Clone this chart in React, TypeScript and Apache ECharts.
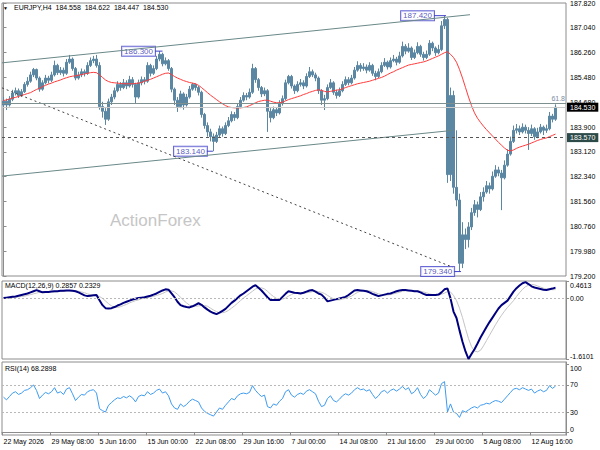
import React, { useEffect, useRef } from "react";
import * as echarts from "echarts";

// 8-hour bars
const opens = [184.60,184.72,184.60,184.78,184.98,185.05,184.90,185.02,185.25,185.35,
185.55,185.72,185.45,185.10,185.30,185.45,185.38,185.55,185.85,185.62,
185.70,185.60,185.95,186.05,185.75,185.45,185.55,185.65,185.60,185.85,
186.00,186.05,185.85,184.55,184.40,184.15,184.70,184.85,185.05,185.25,
185.15,185.30,185.20,185.40,185.25,184.85,185.30,185.40,185.35,185.85,
185.60,185.75,186.05,186.20,185.90,186.00,185.75,185.10,184.75,184.55,
184.95,184.60,184.85,185.10,185.25,185.15,185.00,184.30,183.95,183.75,
183.60,183.45,183.65,183.85,183.70,183.95,184.10,184.30,184.20,184.55,
184.75,184.90,184.85,185.00,185.75,185.40,185.15,184.95,185.05,184.40,
184.20,184.45,184.35,184.65,184.80,185.30,185.50,185.20,185.05,185.25,
185.30,185.20,185.50,185.65,185.55,185.45,185.05,184.75,184.80,185.15,
185.30,185.00,184.90,185.05,185.25,185.40,185.30,185.45,185.70,185.85,
185.75,185.80,185.70,185.85,185.60,185.50,185.65,185.85,185.95,185.80,
186.00,186.05,185.95,186.15,186.45,186.30,186.40,186.10,186.25,186.45,
186.20,186.10,186.20,186.55,186.40,186.25,186.35,187.10,187.30,182.40,
184.90,182.00,181.60,179.60,180.50,180.35,180.75,181.20,181.45,181.30,
181.70,181.85,182.05,181.95,182.35,182.55,182.45,182.30,182.70,183.05,
183.45,183.80,183.85,183.75,183.90,183.80,183.70,183.85,183.60,183.75,
183.90,183.80,183.85,184.25,184.15];

const closes = [184.72,184.60,184.78,184.98,185.05,184.90,185.02,185.25,185.35,185.55,
185.72,185.45,185.10,185.30,185.45,185.38,185.55,185.85,185.62,185.70,
185.60,185.95,186.05,185.75,185.45,185.55,185.65,185.60,185.85,186.00,
186.05,185.85,184.55,184.40,184.15,184.70,184.85,185.05,185.25,185.15,
185.30,185.20,185.40,185.25,184.85,185.30,185.40,185.35,185.85,185.60,
185.75,186.05,186.20,185.90,186.00,185.75,185.10,184.75,184.55,184.95,
184.60,184.85,185.10,185.25,185.15,185.00,184.30,183.95,183.75,183.60,
183.45,183.65,183.85,183.70,183.95,184.10,184.30,184.20,184.55,184.75,
184.90,184.85,185.00,185.75,185.40,185.15,184.95,185.05,184.40,184.20,
184.45,184.35,184.65,184.80,185.30,185.50,185.20,185.05,185.25,185.30,
185.20,185.50,185.65,185.55,185.45,185.05,184.75,184.80,185.15,185.30,
185.00,184.90,185.05,185.25,185.40,185.30,185.45,185.70,185.85,185.75,
185.80,185.70,185.85,185.60,185.50,185.65,185.85,185.95,185.80,186.00,
186.05,185.95,186.15,186.45,186.30,186.40,186.10,186.25,186.45,186.20,
186.10,186.20,186.55,186.40,186.25,186.35,187.10,187.30,182.40,184.90,
182.00,181.60,179.60,180.50,180.35,180.75,181.20,181.45,181.30,181.70,
181.85,182.05,181.95,182.35,182.55,182.45,182.30,182.70,183.05,183.45,
183.80,183.85,183.75,183.90,183.80,183.70,183.85,183.60,183.75,183.90,
183.80,183.85,184.25,184.15,184.53];

const highs = [184.85,184.80,184.88,185.08,185.15,185.12,185.10,185.32,185.48,185.65,
185.77,185.75,185.50,185.38,185.55,185.52,185.65,186.00,185.90,185.80,
185.78,186.05,186.18,186.10,185.80,185.65,185.75,185.72,185.95,186.10,
186.15,186.18,185.95,184.70,184.50,184.80,184.95,185.15,185.35,185.32,
185.42,185.38,185.52,185.48,185.30,185.40,185.50,185.48,185.95,185.90,
185.85,186.15,186.30,186.25,186.10,186.05,185.80,185.15,184.85,185.05,
185.00,184.95,185.20,185.30,185.28,185.20,185.05,184.35,184.05,183.85,
183.70,183.75,183.95,183.92,184.05,184.22,184.40,184.38,184.65,184.85,
185.00,184.98,185.12,185.90,185.80,185.45,185.20,185.15,185.10,184.50,
184.55,184.52,184.75,184.90,185.40,185.55,185.55,185.25,185.35,185.42,
185.38,185.60,185.80,185.72,185.62,185.50,185.10,184.92,185.25,185.42,
185.35,185.08,185.15,185.35,185.50,185.48,185.55,185.80,185.98,185.92,
185.92,185.88,185.95,185.90,185.68,185.75,185.95,186.08,186.00,186.10,
186.18,186.12,186.28,186.60,186.52,186.55,186.45,186.35,186.58,186.50,
186.28,186.32,186.65,186.60,186.45,186.50,187.25,187.42,187.35,185.15,
185.05,183.80,181.80,180.90,180.70,180.90,181.35,181.60,181.55,181.85,
182.00,182.20,182.15,182.50,182.70,182.65,182.55,182.85,183.20,183.60,
183.95,184.00,183.95,184.02,183.98,183.90,183.98,183.90,183.88,184.00,
183.95,183.98,184.38,184.32,184.62];

const lows = [184.50,184.44,184.55,184.72,184.90,184.82,184.85,184.98,185.18,185.30,
185.48,185.38,185.02,185.05,185.25,185.28,185.32,185.50,185.55,185.55,
185.50,185.55,185.90,185.68,185.38,185.40,185.48,185.50,185.55,185.80,
185.92,185.78,184.45,184.20,183.97,184.10,184.60,184.78,185.00,185.05,
185.10,185.10,185.15,185.15,184.66,184.80,185.22,185.25,185.30,185.50,
185.55,185.70,185.98,185.82,185.85,185.68,185.00,184.60,184.38,184.50,
184.45,184.55,184.80,185.05,185.05,184.90,184.20,183.85,183.60,183.45,
183.14,183.40,183.58,183.60,183.65,183.90,184.05,184.10,184.15,184.50,
184.70,184.75,184.80,184.95,185.30,185.05,184.85,184.88,183.75,184.05,
184.15,184.25,184.30,184.58,184.75,185.25,185.12,184.95,185.00,185.18,
185.10,185.15,185.45,185.48,185.35,184.95,184.60,184.44,184.75,185.10,
184.92,184.80,184.85,185.00,185.20,185.22,185.25,185.40,185.65,185.65,
185.68,185.60,185.65,185.52,185.38,185.45,185.60,185.80,185.72,185.75,
185.95,185.85,185.90,186.10,186.20,186.25,186.02,186.05,186.20,186.12,
186.00,186.05,186.15,186.30,186.15,186.20,186.30,187.00,182.14,182.20,
181.80,181.40,179.34,179.45,180.05,180.10,180.65,181.10,181.05,181.25,
181.55,181.80,181.80,181.90,182.30,182.35,181.28,182.25,182.65,183.00,
183.40,183.70,183.65,183.70,183.70,183.18,183.62,183.50,183.55,183.70,
183.65,183.72,183.80,184.05,184.10];

const movingAverage = [184.74,184.76,184.79,184.82,184.84,184.87,184.90,184.93,184.96,184.99,
185.04,185.09,185.13,185.18,185.22,185.26,185.29,185.33,185.36,185.39,
185.43,185.46,185.49,185.51,185.52,185.54,185.56,185.58,185.60,185.62,
185.63,185.62,185.55,185.47,185.39,185.34,185.31,185.30,185.29,185.28,
185.27,185.27,185.27,185.27,185.28,185.29,185.31,185.35,185.38,185.41,
185.45,185.49,185.53,185.57,185.60,185.61,185.56,185.50,185.45,185.41,
185.37,185.34,185.31,185.29,185.27,185.22,185.15,185.07,184.99,184.91,
184.84,184.77,184.70,184.64,184.58,184.54,184.52,184.51,184.51,184.51,
184.52,184.54,184.58,184.62,184.67,184.71,184.73,184.75,184.75,184.72,
184.69,184.67,184.67,184.69,184.73,184.77,184.80,184.83,184.86,184.89,
184.93,184.96,185.00,185.03,185.06,185.08,185.06,185.03,185.01,185.03,
185.05,185.07,185.08,185.11,185.15,185.18,185.21,185.24,185.27,185.29,
185.31,185.33,185.35,185.38,185.41,185.44,185.47,185.51,185.56,185.61,
185.65,185.70,185.74,185.78,185.82,185.86,185.88,185.90,185.92,185.94,
185.96,185.99,186.03,186.07,186.11,186.15,186.20,186.25,186.28,186.20,
186.10,185.95,185.72,185.45,185.15,184.85,184.58,184.35,184.18,184.05,
183.93,183.82,183.72,183.62,183.52,183.42,183.33,183.24,183.17,183.15,
183.18,183.23,183.27,183.30,183.33,183.36,183.40,183.44,183.48,183.51,
183.54,183.56,183.60,183.64,183.68];

const macdMain = [0.01,0.02,0.03,0.04,0.05,0.07,0.09,0.11,0.13,0.16,
0.19,0.22,0.19,0.16,0.17,0.17,0.18,0.19,0.19,0.20,
0.20,0.21,0.21,0.20,0.19,0.16,0.12,0.08,0.06,0.07,
0.08,0.09,-0.05,-0.18,-0.26,-0.27,-0.26,-0.23,-0.19,-0.16,
-0.12,-0.09,-0.06,-0.03,-0.01,0.01,0.02,0.03,0.05,0.07,
0.10,0.13,0.17,0.21,0.24,0.23,0.13,0.03,-0.09,-0.18,
-0.21,-0.23,-0.24,-0.21,-0.17,-0.13,-0.17,-0.24,-0.30,-0.35,
-0.39,-0.42,-0.38,-0.33,-0.28,-0.20,-0.12,-0.06,0.01,0.08,
0.13,0.19,0.25,0.31,0.35,0.28,0.21,0.12,0.03,-0.04,
-0.04,-0.04,-0.04,0.04,0.12,0.19,0.17,0.15,0.14,0.13,
0.15,0.18,0.21,0.22,0.18,0.13,0.10,0.02,-0.08,-0.06,
-0.04,-0.02,0.00,0.02,0.04,0.09,0.15,0.21,0.22,0.21,
0.20,0.19,0.16,0.12,0.09,0.06,0.08,0.10,0.12,0.13,
0.16,0.19,0.21,0.22,0.22,0.21,0.20,0.19,0.19,0.16,
0.12,0.09,0.09,0.09,0.09,0.10,0.16,0.24,0.26,0.00,
-0.35,-0.52,-0.85,-1.15,-1.41,-1.61,-1.48,-1.35,-1.20,-1.04,
-0.90,-0.76,-0.63,-0.51,-0.39,-0.27,-0.18,-0.12,-0.06,0.06,
0.18,0.27,0.34,0.40,0.43,0.38,0.32,0.29,0.27,0.25,
0.23,0.22,0.24,0.26,0.2857];

const macdSignal = [0.00,0.01,0.01,0.02,0.03,0.04,0.05,0.06,0.08,0.10,
0.12,0.14,0.16,0.17,0.18,0.18,0.17,0.17,0.18,0.19,
0.19,0.20,0.20,0.20,0.20,0.19,0.17,0.15,0.12,0.10,
0.08,0.08,0.05,0.00,-0.07,-0.14,-0.20,-0.24,-0.24,-0.22,
-0.19,-0.16,-0.12,-0.09,-0.06,-0.04,-0.01,0.00,0.02,0.04,
0.05,0.08,0.10,0.13,0.17,0.20,0.20,0.17,0.11,0.03,
-0.05,-0.12,-0.18,-0.21,-0.21,-0.20,-0.19,-0.19,-0.21,-0.26,
-0.31,-0.35,-0.38,-0.38,-0.36,-0.32,-0.26,-0.20,-0.13,-0.06,
0.01,0.07,0.13,0.19,0.25,0.28,0.28,0.25,0.19,0.11,
0.05,0.00,-0.03,-0.02,0.01,0.06,0.10,0.14,0.15,0.15,
0.14,0.15,0.16,0.18,0.19,0.18,0.16,0.13,0.08,0.03,
-0.01,-0.04,-0.04,-0.02,0.00,0.03,0.06,0.11,0.16,0.19,
0.21,0.21,0.20,0.18,0.15,0.12,0.10,0.09,0.09,0.10,
0.12,0.14,0.16,0.19,0.20,0.21,0.21,0.21,0.20,0.19,
0.17,0.15,0.12,0.10,0.09,0.09,0.11,0.14,0.18,0.17,
0.08,-0.06,-0.26,-0.51,-0.80,-1.07,-1.28,-1.40,-1.42,-1.38,
-1.26,-1.12,-0.98,-0.84,-0.70,-0.57,-0.45,-0.34,-0.24,-0.15,
-0.06,0.05,0.15,0.24,0.31,0.35,0.37,0.36,0.33,0.30,
0.27,0.25,0.24,0.23,0.2329];

const rsi = [52,48,53,58,60,56,58,62,63,66,
70,62,50,55,59,57,60,66,58,60,
56,64,66,57,47,52,56,55,60,62,
63,58,35,32,30,40,44,48,51,50,
53,51,54,51,45,53,55,54,60,56,
58,62,64,58,60,54,42,36,34,42,
38,41,46,49,47,45,36,31,28,26,
24,30,36,34,40,45,50,48,54,57,
58,57,59,69,62,57,53,55,38,36,
42,40,46,50,60,63,55,52,56,58,
56,61,63,60,57,46,38,40,50,54,
47,45,49,54,57,55,58,63,66,63,
64,61,63,56,50,54,60,62,58,62,
64,61,64,68,63,66,57,60,66,56,
50,54,63,59,55,58,72,75,30,42,
30,28,22,32,30,33,36,38,36,40,
41,43,42,45,47,46,44,49,54,59,
64,65,63,66,64,62,64,58,61,63,
60,62,69,65,68.2898];

const xTickLabels = ["22 May 2026","29 May 08:00","5 Jun 16:00","15 Jun 00:00","22 Jun 08:00","29 Jun 16:00","7 Jul 00:00","14 Jul 08:00","21 Jul 16:00","29 Jul 00:00","5 Aug 08:00","12 Aug 16:00"];
const priceTicks = [179.2,179.98,180.76,181.56,182.34,183.12,183.9,184.68,185.48,186.26,187.04,187.82];
const macdTicks = [0.4613,0,-1.6101];
const rsiTicks = [0,30,70,100];
const rsiLevels = [30,70];

const upperChannel = [[-0.5,185.93],[155.5,187.45]];
const lowerChannel = [[-0.5,182.355],[149.5,183.795]];
const dottedTrend = [[-0.5,185.14],[149.8,179.475]];
const swingPrices = [186.30,187.42,183.14,179.34];
const swingBoxIdx = [50.5,143.5,67.8,150.2];
const swingBarIdx = [53,147.5,69.8,152.5];

const fibLevel = 184.65;
const bidPrice = 184.53;
const dashedLevel = 183.57;
const headerValues = ["184.558","184.622","184.447","184.530"];
const macdValues = ["0.2857","0.2329"];
const rsiValue = "68.2898";

const FONT = "'Liberation Sans', Arial, sans-serif";
const N_CAT = 188;
const CANDLE = "#5b87a3";
const FRAME = "#8c8c8c";

export default function App() {
  const ref = useRef<HTMLDivElement>(null);
  useEffect(() => {
    document.body.style.margin = "0";
    const chart = echarts.init(ref.current!, null, { renderer: "svg" });
    const categories = Array.from({ length: N_CAT }, (_, i) => String(i));
    const candleData = closes.map((c, i) => [opens[i], c, lows[i], highs[i]]);
    const every16 = (i: number) => i % 16 === 0;
    const gridBase = { left: 2, right: 34, show: true, borderColor: FRAME, borderWidth: 1, outerBoundsMode: "none" };
    const hiddenCat = (g: number) => ({
      type: "category", gridIndex: g, data: categories, boundaryGap: true,
      axisLine: { show: false }, axisTick: { show: false }, axisLabel: { show: false }, splitLine: { show: false },
    });
    const labelBase = { fontSize: 7, color: "#000", fontFamily: FONT, margin: 4 };
    const tickBase = { show: true, length: 3, lineStyle: { color: FRAME } };
    // edge labels of the indicator panes sit inward, as in the reference
    const edgeRich = {
      t: { fontSize: 7, color: "#000", fontFamily: FONT, padding: [8, 0, 0, 0] },
      b: { fontSize: 7, color: "#000", fontFamily: FONT, padding: [0, 0, 6, 0] },
      m: { fontSize: 7, color: "#000", fontFamily: FONT },
    };

    const swingSeries = swingPrices.map((p, k) => ({
      type: "line", xAxisIndex: 1, yAxisIndex: 0, symbol: "none", silent: true,
      data: [[swingBoxIdx[k], p], [swingBarIdx[k], p]],
      lineStyle: { color: "#4040c8", width: 1 },
    }));

    const option: any = {
      animation: false,
      backgroundColor: "#ffffff",
      textStyle: { fontFamily: FONT },
      grid: [
        { ...gridBase, top: 3, height: 273 },
        { ...gridBase, top: 281, height: 78 },
        { ...gridBase, top: 362, height: 73 },
      ],
      xAxis: [
        hiddenCat(0),
        { type: "value", gridIndex: 0, min: -0.5, max: 187.5, show: false },
        hiddenCat(1),
        {
          type: "category", gridIndex: 2, data: categories, boundaryGap: true,
          axisLine: { show: true, lineStyle: { color: FRAME } },
          axisTick: { ...tickBase, interval: (i: number) => every16(i) },
          axisLabel: {
            ...labelBase, margin: 3, align: "left",
            interval: (i: number) => every16(i),
            formatter: (v: string) => xTickLabels[Number(v) / 16] ?? "",
          },
          splitLine: { show: false },
        },
      ],
      yAxis: [
        {
          type: "value", gridIndex: 0, position: "right", min: 179.2, max: 187.82, scale: true,
          splitLine: { show: false },
          axisLine: { show: true, lineStyle: { color: FRAME } },
          axisTick: { ...tickBase, customValues: priceTicks },
          axisLabel: { ...labelBase, customValues: priceTicks, formatter: (v: number) => v.toFixed(3) },
        },
        {
          type: "value", gridIndex: 1, position: "right", min: -1.6101, max: 0.4613,
          splitLine: { show: false },
          axisLine: { show: true, lineStyle: { color: FRAME } },
          axisTick: { ...tickBase, customValues: macdTicks },
          axisLabel: {
            ...labelBase, customValues: macdTicks, rich: edgeRich,
            formatter: (v: number) => (v === 0 ? "{m|0.00}" : v > 0 ? `{t|${v.toFixed(4)}}` : `{b|${v.toFixed(4)}}`),
          },
        },
        {
          type: "value", gridIndex: 2, position: "right", min: -4, max: 104,
          splitLine: { show: false },
          axisLine: { show: true, lineStyle: { color: FRAME } },
          axisTick: { ...tickBase, customValues: rsiTicks },
          axisLabel: {
            ...labelBase, customValues: rsiTicks, rich: edgeRich,
            formatter: (v: number) => (v === 100 ? `{t|${v}}` : v === 0 ? `{b|${v}}` : `{m|${v}}`),
          },
        },
      ],
      graphic: [
        { type: "text", left: 3, top: 5, style: { text: "▼", fill: "#000", font: `5px ${FONT}` } },
        { type: "text", left: 14, top: 4, style: { text: `EURJPY,H4  ${headerValues.join("  ")}`, fill: "#000", font: `7px ${FONT}` } },
        { type: "text", left: 110, top: 212, z: -1, style: { text: "ActionForex", fill: "#c6c6c6", font: `17px ${FONT}` } },
        { type: "text", left: 5, top: 282, style: { text: `MACD(12,26,9) ${macdValues.join(" ")}`, fill: "#000", font: `7px ${FONT}` } },
        { type: "text", left: 5, top: 365, style: { text: `RSI(14) ${rsiValue}`, fill: "#000", font: `7px ${FONT}` } },
      ],
      series: [
        {
          type: "candlestick", xAxisIndex: 0, yAxisIndex: 0, data: candleData,
          barWidth: 1.6,
          itemStyle: { color: CANDLE, color0: CANDLE, borderColor: CANDLE, borderColor0: CANDLE, borderWidth: 1 },
          markLine: {
            silent: true, symbol: ["none", "none"], animation: false,
            data: [
              {
                yAxis: fibLevel, lineStyle: { color: "#7d8f8f", type: "solid", width: 1 },
                label: { show: true, position: "insideEndTop", formatter: "61.8", color: "#7a8aa0", fontSize: 7, distance: [1, 1] },
              },
              {
                yAxis: bidPrice, lineStyle: { color: "#c8c8c8", type: "solid", width: 1 },
                label: { show: true, position: "end", formatter: bidPrice.toFixed(3), backgroundColor: "#000", color: "#fff", fontSize: 7, padding: [1, 3, 1, 3], distance: 1 },
              },
              {
                yAxis: dashedLevel, lineStyle: { color: "#555", type: [3, 3], width: 1 },
                label: { show: true, position: "end", formatter: dashedLevel.toFixed(3), backgroundColor: "#2c4a47", color: "#fff", fontSize: 7, padding: [1, 3, 1, 3], distance: 1 },
              },
            ],
          },
        },
        {
          type: "line", xAxisIndex: 0, yAxisIndex: 0, data: movingAverage, symbol: "none", silent: true,
          lineStyle: { color: "#ff3b3b", width: 1 },
        },
        {
          type: "line", xAxisIndex: 1, yAxisIndex: 0, data: upperChannel, symbol: "none", silent: true,
          lineStyle: { color: "#6a8888", width: 1 },
        },
        {
          type: "line", xAxisIndex: 1, yAxisIndex: 0, data: lowerChannel, symbol: "none", silent: true,
          lineStyle: { color: "#6a8888", width: 1 },
        },
        {
          type: "line", xAxisIndex: 1, yAxisIndex: 0, data: dottedTrend, symbol: "none", silent: true,
          lineStyle: { color: "#444", width: 1, type: [2, 3] },
        },
        ...swingSeries,
        {
          type: "scatter", xAxisIndex: 1, yAxisIndex: 0, symbolSize: 0, silent: true,
          data: swingPrices.map((p, k) => [swingBoxIdx[k], p]),
          label: {
            show: true, position: "left", distance: 0,
            formatter: (pr: any) => Number(pr.value[1]).toFixed(3),
            color: "#2b2bb0", fontSize: 8, fontFamily: FONT,
            backgroundColor: "#fff", borderColor: "#4444cc", borderWidth: 1, padding: [1, 2, 0, 2],
          },
        },
        {
          type: "line", xAxisIndex: 2, yAxisIndex: 1, data: macdSignal, symbol: "none", silent: true,
          lineStyle: { color: "#c4c4c4", width: 1 },
        },
        {
          type: "line", xAxisIndex: 2, yAxisIndex: 1, data: macdMain, symbol: "none", silent: true,
          lineStyle: { color: "#00007f", width: 2 },
          markLine: {
            silent: true, symbol: ["none", "none"], label: { show: false },
            lineStyle: { color: "#b8b8b8", type: [2, 2], width: 1 },
            data: [{ yAxis: 0 }],
          },
        },
        {
          type: "line", xAxisIndex: 3, yAxisIndex: 2, data: rsi, symbol: "none", silent: true,
          lineStyle: { color: "#3d9af0", width: 1 },
          markLine: {
            silent: true, symbol: ["none", "none"], label: { show: false },
            lineStyle: { color: "#b8b8b8", type: [2, 2], width: 1 },
            data: rsiLevels.map((v) => ({ yAxis: v })),
          },
        },
      ],
    };
    chart.setOption(option);
    return () => chart.dispose();
  }, []);
  return (
    <div
      ref={ref}
      style={{ position: "fixed", left: 0, top: 0, width: 600, height: 450, background: "#fff" }}
    />
  );
}
